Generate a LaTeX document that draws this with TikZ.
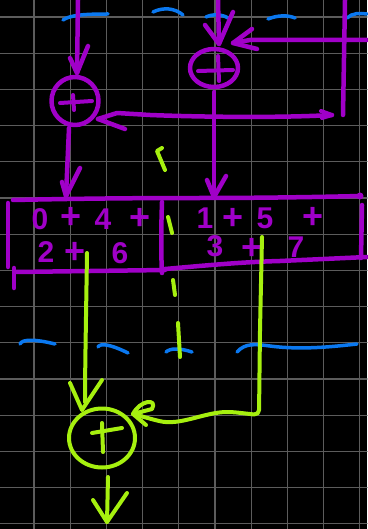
\documentclass[tikz,border=0pt]{standalone}
\usepackage{fontspec}
\setmainfont{Liberation Sans}
\usetikzlibrary{shapes.geometric}
\definecolor{pur}{HTML}{A000C8}
\definecolor{lime}{HTML}{A6F00F}
\definecolor{blu}{HTML}{0A78F0}
\definecolor{gridc}{HTML}{5C5C5C}
\begin{document}
\begin{tikzpicture}[x=1pt,y=-1pt, line cap=round, line join=round,
  pl/.style={draw=pur, line width=4.5pt},
  gl/.style={draw=lime, line width=4pt},
  bl/.style={draw=blu, line width=3.5pt},
  gridline/.style={draw=gridc, line width=1.2pt},
  adder/.style={ellipse, draw=pur, line width=4.5pt, inner sep=0pt},
  gadder/.style={ellipse, draw=lime, line width=4pt, inner sep=0pt},
  txt/.style={text=pur, font=\fontsize{30}{30}\selectfont\bfseries, inner sep=0pt},
  ptxt/.style={text=pur, font=\fontsize{36}{36}\selectfont\bfseries, inner sep=0pt}]
\fill[black] (0,0) rectangle (367,529);
\useasboundingbox (0,0) rectangle (367,529);
% grid
\foreach \k in {0,...,9} \draw[gridline] ({34+36.2*\k},0) -- ({34+36.2*\k},529);
\foreach \k in {0,...,14} \draw[gridline] (0,{17+36.2*\k}) -- (367,{17+36.2*\k});
% blue strokes
\draw[bl] (63,20) .. controls (70,15) and (85,14) .. (108,14);
\draw[bl] (153,12) .. controls (163,7) and (175,8) .. (183,15);
\draw[bl] (206,17) .. controls (212,14) and (222,14) .. (228,18);
\draw[bl] (268,19) .. controls (278,15) and (288,15) .. (295,18);
\draw[bl] (347,18) .. controls (352,13) and (360,13) .. (367,14);
\draw[bl] (20,344) .. controls (22,339) and (35,339) .. (55,344);
\draw[bl] (98,347) .. controls (100,343) and (110,344) .. (128,353);
\draw[bl] (166,352) .. controls (170,348) and (180,348) .. (192,352);
\draw[bl] (237,352) .. controls (245,343) and (255,344) .. (270,346) .. controls (300,350) and (330,347) .. (357,344);
% purple adders
\node[adder, minimum width=47pt, minimum height=48pt] (addL) at (75,101) {};
\node[adder, minimum width=48pt, minimum height=38pt] (addR) at (214,68) {};
\draw[pl, line width=4pt] (60,103) -- (92,101);
\draw[pl, line width=4pt] (73,95) -- (74,110);
\draw[pl, line width=4pt] (198,71) -- (233,70);
\draw[pl, line width=4pt] (218,56) -- (219,81);
% left adder input
\coordinate (inLtop) at (78,0);
\coordinate (inLtip) at (77,73);
\draw[pl] (inLtop) -- (inLtip);
\draw[pl] (inLtip) ++(-7,-15) -- (inLtip) -- ++(11,-27);
% left adder output
\coordinate (oLs) at (69,128);
\coordinate (oLtip) at (66,196);
\draw[pl] (oLs) -- (oLtip);
\draw[pl] (oLtip) ++(-4,-14) -- (oLtip) -- ++(14,-28);
% right adder top input
\coordinate (inRtop) at (218,0);
\coordinate (inRtip) at (219,44);
\draw[pl] (inRtop) -- (inRtip);
\draw[pl] (inRtip) ++(-14,-19) -- (inRtip) -- ++(14,-32);
% right adder side input
\coordinate (inSide) at (367,40);
\coordinate (inStip) at (233,43);
\draw[pl] (inSide) -- (250,40) -- (inStip);
\draw[pl] (inStip) ++(19,-14) -- (inStip) -- ++(24,6);
% right adder output
\coordinate (oRs) at (214,92);
\coordinate (oRtip) at (214,197);
\draw[pl] (oRs) -- (oRtip);
\draw[pl] (oRtip) ++(-7,-17) -- (oRtip) -- ++(12,-21);
% feedback
\coordinate (fbTop) at (345,0);
\coordinate (fbBot) at (343,115);
\draw[pl] (fbTop) -- (fbBot);
\coordinate (fbStart) at (332,115);
\coordinate (fbTip) at (98,119);
\draw[pl] (fbStart) .. controls (280,118) and (200,117) .. (150,115) -- (117,113) -- (fbTip);
\draw[pl] (fbTip) -- ++(27,10);
\draw[pl, line width=4pt] (fbStart) ++(-11,-4) -- (fbStart) -- ++(-10,3);
% box
\draw[pl] (13,200) .. controls (60,199) and (120,198) .. (200,198) .. controls (260,198) and (320,197) .. (360,196);
\fill[pur] (360,196) circle (3.5pt);
\draw[pl] (8,203) -- (8,267);
\draw[pl] (14,268) -- (14,288);
\draw[pl] (15,272) -- (165,270);
\draw[pl] (165,269) .. controls (200,266) and (240,262) .. (280,261) -- (367,257);
\draw[pl] (362,205) -- (361,258);
\draw[pl] (162,202) .. controls (161,230) and (161,255) .. (162,273);
% text
\foreach \ch/\x/\y [count=\i] in {0/40/219, 4/103/219, 2/46/252, 6/120/253, 1/205/218, 5/265/218, 3/215/246, 7/296/247}
  \node[txt] (ch\i) at (\x,\y) {\ch};
\foreach \x/\y [count=\i] in {71/218, 140/219, 75/253, 233/219, 313/218, 252/249}
  \node[ptxt] (pl\i) at (\x,\y) {+};
% lime ticks
\draw[gl] (162,148) -- (157,151) -- (165,170);
\draw[gl] (168,217) -- (172,233);
\draw[gl] (173,280) -- (175,295);
\draw[gl] (178,323) -- (180,357);
% green adder
\node[gadder, minimum width=66pt, minimum height=59pt] (addG) at (102,438) {};
\draw[gl] (92,433) -- (122,428);
\draw[gl] (102,423) -- (103,452);
% green left input
\coordinate (gAs) at (87,253);
\coordinate (gAtip) at (82,410);
\draw[gl] (gAs) .. controls (86,320) and (85,370) .. (85,402);
\draw[gl] (gAtip) ++(-12,-27) -- (gAtip) -- ++(20,-30);
% green right input
\coordinate (gBs) at (262,237);
\coordinate (gBtip) at (133,414);
\draw[gl, rounded corners=5pt] (gBs) -- (260,330) -- (259,415) -- (232,412) .. controls (205,412) and (180,426) .. (155,420) -- (gBtip);
\draw[gl] (gBtip) .. controls (140,400) and (158,398) .. (152,409) -- (gBtip) -- (146,425);
% green output
\coordinate (gOs) at (108,477);
\coordinate (gOtip) at (107,522);
\draw[gl] (gOs) -- (gOtip);
\draw[gl] (gOtip) ++(-14,-22) -- (gOtip) -- ++(20,-29);
\end{tikzpicture}
\end{document}
